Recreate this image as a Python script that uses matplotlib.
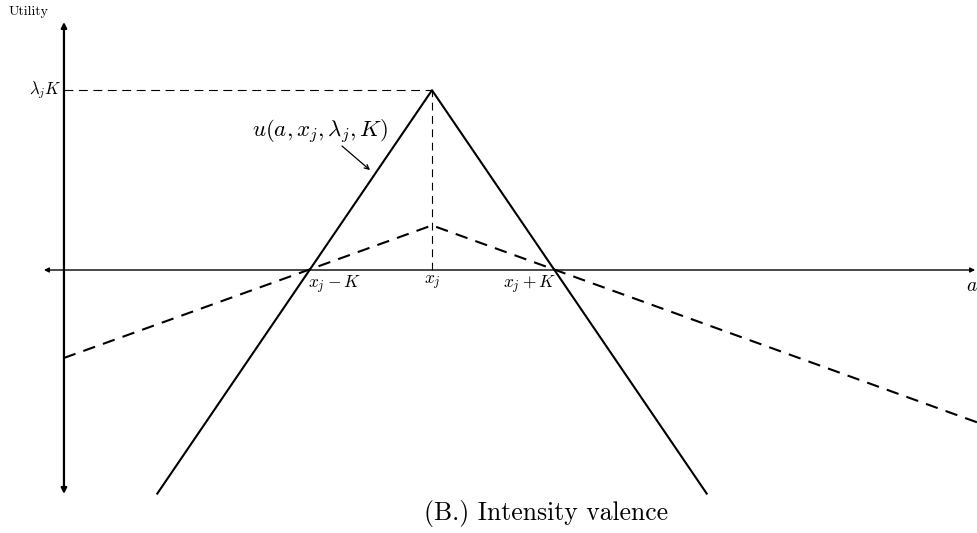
import numpy as np
import matplotlib
matplotlib.use("Agg")
import matplotlib.pyplot as plt

plt.rcParams['mathtext.fontset'] = 'cm'
plt.rcParams['axes.unicode_minus'] = False

# x measured from x_j in units of K
x_j = 0.0
K = 1.0
lam_hi = 1.45
lam_lo = 0.36

# piecewise linear utility curves (vertices)
solid_x = [-2.22, 0.0, 2.22]
solid_y = [-1.81, 1.45, -1.81]
dashed_x = [-2.97, 0.0, 4.40]
dashed_y = [-0.71, 0.36, -1.23]

tick_pos = [x_j - K, x_j, x_j + K]
tick_text = [r'$x_j - K$', r'$x_j$', r'$x_j + K$']
tick_ha = ['left', 'center', 'right']

fig = plt.figure(figsize=(9.77, 5.33), dpi=100)
ax = fig.add_axes([0, 0, 1, 1])
ax.set_xlim(-432 / 124, 545 / 124)
ax.set_ylim(-263 / 124, 270 / 124)
ax.axis('off')

y_axis_x = -2.968
# axes with arrows
ax.annotate('', xy=(4.38, 0), xytext=(-3.13, 0),
            arrowprops=dict(arrowstyle='<|-|>', lw=1.0, color='black',
                            mutation_scale=7, shrinkA=0, shrinkB=0))
ax.annotate('', xy=(y_axis_x, 2.0), xytext=(y_axis_x, -1.806),
            arrowprops=dict(arrowstyle='<|-|>', lw=1.6, color='black',
                            mutation_scale=8, shrinkA=0, shrinkB=0))

# curves
ax.plot(solid_x, solid_y, color='black', lw=1.5, solid_capstyle='butt')
ax.plot(dashed_x, dashed_y, color='black', lw=1.5, dashes=(6, 4))

# guide lines to the peak
ax.plot([y_axis_x, x_j], [lam_hi * K, lam_hi * K], color='black', lw=0.8, dashes=(8, 5))
ax.plot([x_j, x_j], [0, lam_hi * K], color='black', lw=0.8, dashes=(7, 5))

# labels
ax.text(-3.25, 2.08, 'Utility', fontfamily='cmr10', fontsize=10, ha='center', va='center')
ax.text(y_axis_x - 0.02, lam_hi * K, r'$\lambda_j K$', fontsize=12, ha='right', va='center')
for p, t, h in zip(tick_pos, tick_text, tick_ha):
    ax.text(p, -0.03, t, fontsize=12.5, ha=h, va='top')
ax.text(4.35, -0.05, r'$a$', fontsize=14, ha='center', va='top')

ax.text(-0.90, 1.11, r'$u(a, x_j, \lambda_j, K)$', fontsize=16.5, ha='center', va='center')
ax.annotate('', xy=(-0.5, 0.806), xytext=(-0.726, 1.0),
            arrowprops=dict(arrowstyle='->', lw=0.9, color='black',
                            shrinkA=0, shrinkB=0, mutation_scale=8))

ax.text(0.92, -1.96, '(B.) Intensity valence', fontfamily='cmr10', fontsize=18.5,
        ha='center', va='center')

fig.savefig('out.png', dpi=100)
